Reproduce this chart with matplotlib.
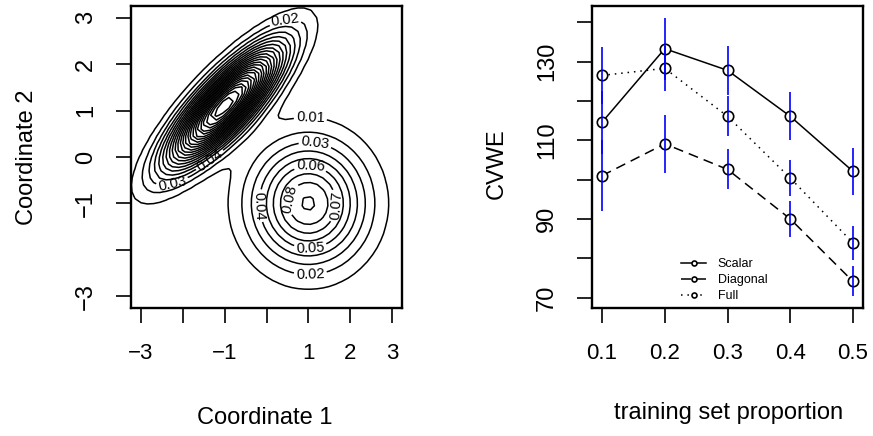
import numpy as np
import matplotlib
matplotlib.use("Agg")
import matplotlib.pyplot as plt

plt.rcParams['font.family'] = ['Liberation Sans', 'DejaVu Sans']

# two-component gaussian mixture shown as a contour map
weights = [0.65, 0.46]
means = [[-1.0, 1.1], [1.0, -1.0]]
covs = [[[0.77, 0.60], [0.60, 0.69]],
        [[0.83, 0.0], [0.0, 0.77]]]
levels = np.round(np.arange(0.01, 0.30, 0.01), 2)
# (level, x, y) for each contour label
contour_labels = [(0.01, 0.98, 0.86), (0.03, 1.17, 0.28), (0.06, 1.1, -0.24),
                  (0.08, 0.57, -0.9), (0.07, 1.58, -1.0), (0.04, -0.1, -1.08),
                  (0.05, 1.0, -1.96), (0.02, 1.0, -2.52),
                  (0.02, 0.48, 2.73), (0.03, -2.25, -0.52), (0.04, -1.34, 0.0)]

# CV error by training set proportion
proportion = [0.1, 0.2, 0.3, 0.4, 0.5]
scalar = [114.6, 133.3, 127.8, 116.1, 102.1]
diagonal = [101.0, 109.1, 102.6, 90.0, 74.1]
full = [126.5, 128.3, 116.1, 100.4, 83.9]
scalar_err = [8.0, 7.9, 6.3, 6.1, 6.0]
diagonal_err = [9.0, 7.4, 5.1, 4.6, 3.8]
full_err = [7.2, 5.8, 5.1, 4.6, 4.3]


def mixture_density(X, Y):
    Z = np.zeros_like(X)
    for w, mu, S in zip(weights, means, covs):
        S = np.array(S)
        inv = np.linalg.inv(S)
        dx = X - mu[0]
        dy = Y - mu[1]
        q = inv[0, 0] * dx * dx + 2 * inv[0, 1] * dx * dy + inv[1, 1] * dy * dy
        Z += w * np.exp(-0.5 * q) / (2 * np.pi * np.sqrt(np.linalg.det(S)))
    return Z


def snap_to_level(cs, lev, x, y):
    # closest vertex of the requested level's lines
    i = int(np.argmin(np.abs(cs.levels - lev)))
    best, pt = np.inf, (x, y)
    for seg in cs.allsegs[i]:
        if len(seg) == 0:
            continue
        d = np.hypot(seg[:, 0] - x, seg[:, 1] - y)
        j = int(np.argmin(d))
        if d[j] < best:
            best, pt = d[j], (seg[j, 0], seg[j, 1])
    return pt


def r_style(ax):
    for sp in ax.spines.values():
        sp.set_linewidth(1.7)
    ax.tick_params(direction='out', length=10.8, width=1.2, color='black')
    ax.tick_params(axis='x', labelsize=16, pad=14.5)
    ax.tick_params(axis='y', labelsize=17, pad=13.5)


def pad_range(lo, hi):
    d = (hi - lo) * 0.04
    return lo - d, hi + d


fig = plt.figure(figsize=(8.73, 4.36), dpi=100)
ax1 = fig.add_axes([131 / 873, 1 - 307.5 / 436, 271 / 873, 301 / 436])
ax2 = fig.add_axes([592 / 873, 1 - 307.5 / 436, 271 / 873, 301 / 436])

# left panel: contours (grid runs a little past the visible box)
grid = np.linspace(-3.3, 3.3, 45)
X, Y = np.meshgrid(grid, grid)
Z = mixture_density(X, Y)
cs = ax1.contour(X, Y, Z, levels=levels, colors='black', linewidths=1.1)
spots = [snap_to_level(cs, lev, lx, ly) for lev, lx, ly in contour_labels]
ax1.clabel(cs, manual=spots, fmt='%.2f', fontsize=10.5, inline=True,
           inline_spacing=2)

ax1.set_xlim(pad_range(-3, 3))
ax1.set_ylim(pad_range(-3, 3))
ticks = [-3, -2, -1, 0, 1, 2, 3]
ax1.set_xticks(ticks)
ax1.set_xticklabels(['\u22123', '', '\u22121', '', '1', '2', '3'])
ax1.set_yticks(ticks)
ax1.set_yticklabels(['\u22123', '', '\u22121', '0', '1', '2', '3'])
r_style(ax1)

# right panel: lines with error bars
ax2.plot(proportion, scalar, '-', color='black', lw=1.1, marker='o', ms=7.5,
         mfc='white', mec='black', mew=1.2, label='Scalar')
ax2.plot(proportion, diagonal, color='black', lw=1.1, ls=(0, (6.5, 4)),
         marker='o', ms=7.5, mfc='white', mec='black', mew=1.2, label='Diagonal')
ax2.plot(proportion, full, color='black', lw=1.1, ls=(0, (1, 3.2)),
         marker='o', ms=7.5, mfc='white', mec='black', mew=1.2, label='Full')
series = [(scalar, scalar_err), (diagonal, diagonal_err), (full, full_err)]
for vals, errs in series:
    lo = np.array(vals) - np.array(errs)
    hi = np.array(vals) + np.array(errs)
    ax2.vlines(proportion, lo, hi, colors='#0000ff', linewidth=1.2, zorder=5)

all_lo = min(np.min(np.array(v) - np.array(e)) for v, e in series)
all_hi = max(np.max(np.array(v) + np.array(e)) for v, e in series)
ax2.set_xlim(pad_range(min(proportion), max(proportion)))
ax2.set_ylim(pad_range(all_lo, all_hi))
ax2.set_xticks(proportion)
ax2.set_xticklabels(['0.1', '0.2', '0.3', '0.4', '0.5'])
yt = [70, 80, 90, 100, 110, 120, 130, 140]
ax2.set_yticks(yt)
ax2.set_yticklabels(['70', '', '90', '', '110', '', '130', ''])
r_style(ax2)

ax2.legend(loc='upper left', bbox_to_anchor=(0.33, 0.163), frameon=False,
           fontsize=9, markerscale=0.48, handlelength=2.0, handletextpad=0.9,
           labelspacing=0.32, borderpad=0, borderaxespad=0)

for ax in (ax1, ax2):
    for lab in ax.get_yticklabels():
        lab.set_rotation(90)
        lab.set_va('center')

# axis titles
fig.text(265 / 873, 1 - 424 / 436, 'Coordinate 1', fontsize=17,
         ha='center', va='baseline')
fig.text(729 / 873, 1 - 419 / 436, 'training set proportion', fontsize=17,
         ha='center', va='baseline')
fig.text(33 / 873, 1 - 157.5 / 436, 'Coordinate 2', fontsize=17, rotation=90,
         rotation_mode='anchor', ha='center', va='baseline')
fig.text(503 / 873, 1 - 164 / 436, 'CVWE', fontsize=17, rotation=90,
         rotation_mode='anchor', ha='center', va='baseline')

fig.savefig('out.png', dpi=100)
